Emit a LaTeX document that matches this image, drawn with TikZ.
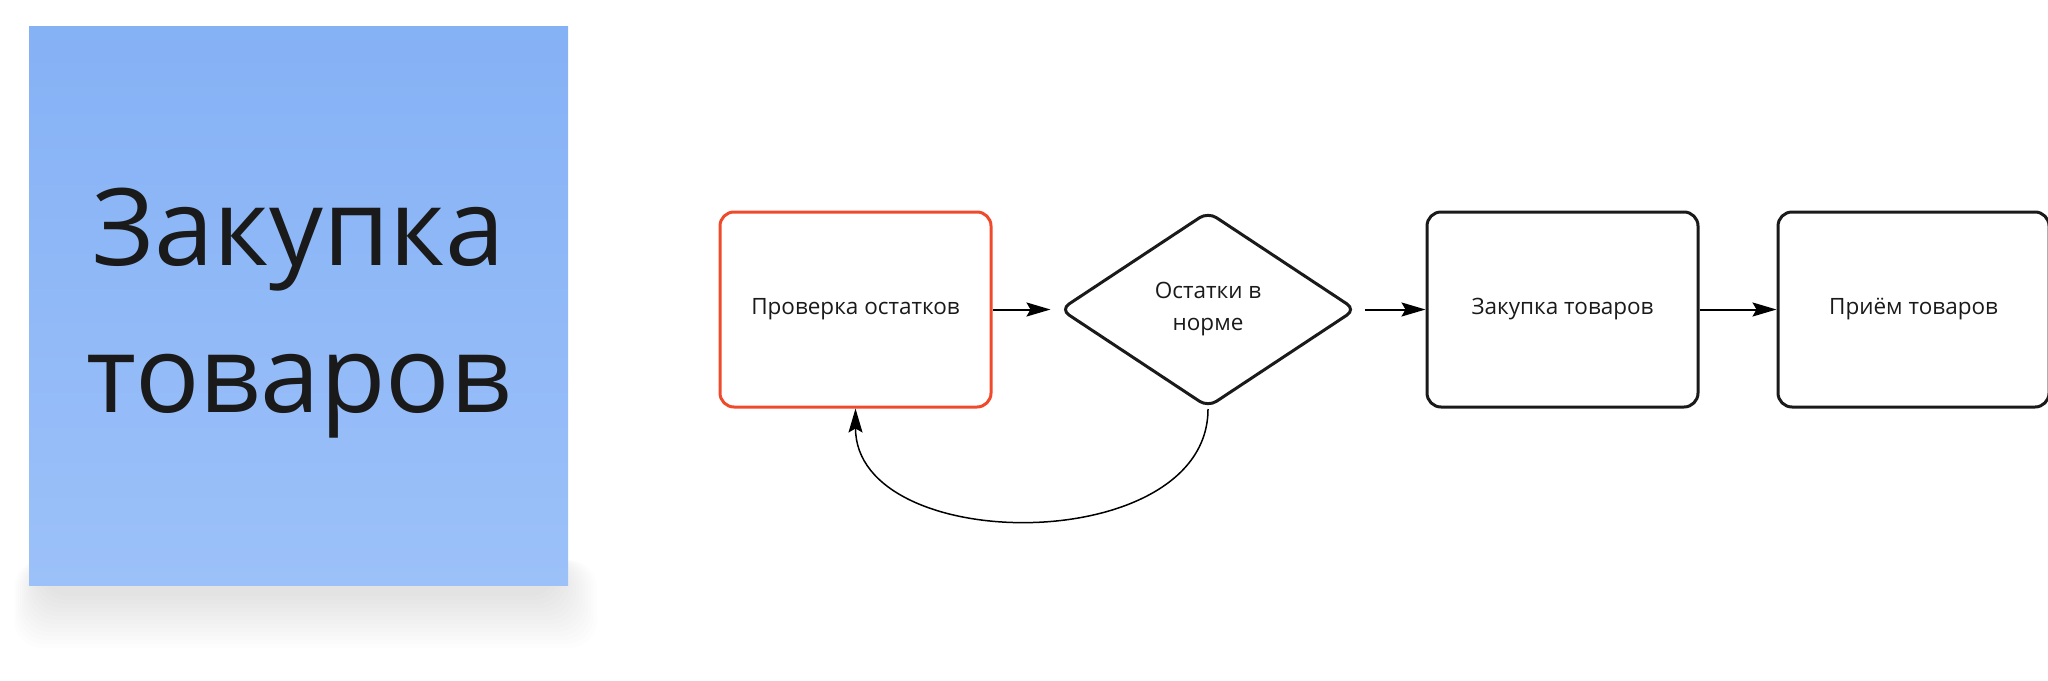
\documentclass[tikz,border=0pt]{standalone}
\usepackage{fontspec}
\setmainfont{Open Sans}
\usepackage{xcolor}
\usepackage{tikz}
\usetikzlibrary{positioning,shapes.geometric}
\usetikzlibrary{arrows.meta}
\definecolor{stickytop}{RGB}{133,177,245}
\definecolor{stickybottom}{RGB}{156,193,249}
\definecolor{boxred}{RGB}{240,74,44}
\definecolor{boxblack}{RGB}{26,26,26}
\tikzset{>={Stealth[length=12pt,width=7pt,inset=2pt]}}
\tikzstyle{rounded-box}=[rectangle, rounded corners=7pt, draw=boxblack, line width=1.5pt, minimum width=135.5pt, minimum height=97.5pt, text centered, text=boxblack, font=\fontsize{11.25}{16}\selectfont]
\tikzstyle{decision}=[diamond, rounded corners=5pt, draw=boxblack, line width=1.5pt, minimum width=148pt, minimum height=98pt, align=center, text=boxblack, font=\fontsize{11.25}{16}\selectfont]
\tikzstyle{sticky}=[rectangle, minimum width=269.5pt, minimum height=279.5pt, inner sep=0pt, top color=stickytop, bottom color=stickybottom, align=center, text=boxblack, text depth=5pt, font=\fontsize{53.5}{73.5}\selectfont]
\tikzstyle{flow}=[->, line width=1pt, draw=black]

\begin{document}
\begin{tikzpicture}[x=0.5pt, y=-0.5pt, auto, node distance=35pt]
	\useasboundingbox (0,0) rectangle (2048,680);

	\foreach \i in {1,...,14}
		\fill[black, opacity=0.007, rounded corners=14pt] (42-2*\i,560) rectangle (555+3*\i,592+4*\i);

	\node[sticky] (note) at (298.5,305.5) {Закупка\\товаров};

	\node[rounded-box, draw=boxred] (check) at (855.5,309.5) {Проверка остатков};
	\node[decision] (norm) [right=33pt of check] {Остатки в\\норме};
	\node[rounded-box] (purchase) [right=34pt of norm] {Закупка товаров};
	\node[rounded-box] (receive) [right=38.5pt of purchase] {Приём товаров};

	\path (check.east) edge [flow, shorten >=4pt] (norm.west);
	\path (norm.east) edge [flow, shorten <=3.5pt] (purchase.west);
	\path (purchase.east) edge [flow] (receive.west);
	\path (norm.south) edge [flow, line width=0.75pt, out=-90, in=-90, looseness=1.08] (check.south);
\end{tikzpicture}
\end{document}
